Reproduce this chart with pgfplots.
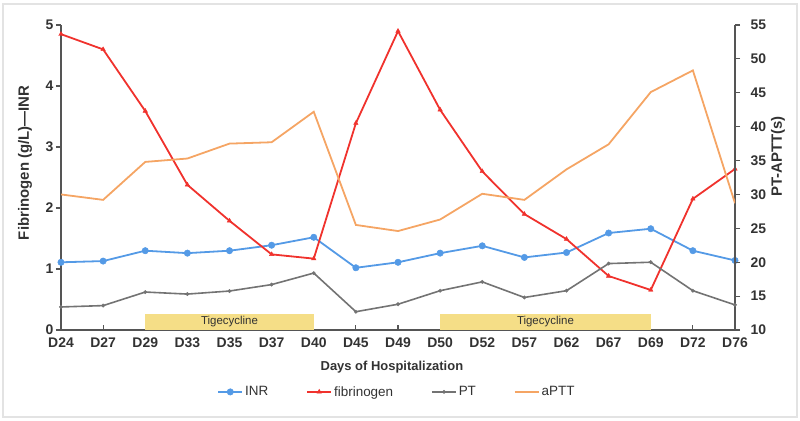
\documentclass[border=0pt]{standalone}
\usepackage{fontspec}
\setmainfont{Liberation Sans}
\usepackage{pgfplots}
\pgfplotsset{compat=1.18}
\definecolor{inr}{RGB}{84,154,230}
\definecolor{fib}{RGB}{240,50,45}
\definecolor{ptc}{RGB}{115,115,115}
\definecolor{aptt}{RGB}{245,165,100}
\definecolor{tig}{RGB}{245,222,135}
\definecolor{axc}{RGB}{85,85,85}
\definecolor{txt}{RGB}{50,50,50}

\pgfplotstableread{
x INR fib PT aPTT
0  1.11 4.85 13.4 30.0
1  1.13 4.60 13.6 29.2
2  1.30 3.59 15.6 34.8
3  1.26 2.38 15.3 35.3
4  1.30 1.79 15.75 37.5
5  1.39 1.24 16.7 37.7
6  1.52 1.17 18.4 42.2
7  1.02 3.39 12.7 25.5
8  1.11 4.90 13.8 24.6
9  1.26 3.61 15.8 26.3
10 1.38 2.60 17.1 30.1
11 1.19 1.90 14.8 29.2
12 1.27 1.49 15.8 33.7
13 1.59 0.885 19.8 37.4
14 1.66 0.656 20.0 45.1
15 1.30 2.15 15.8 48.3
16 1.14 2.64 13.7 28.7
}\datatable

\pgfplotsset{
  common/.style={
    at={(61bp,90bp)}, anchor=south west,
    scale only axis, width=674bp, height=305bp,
    xmin=0, xmax=16,
    axis line style={axc, line width=1.3bp},
    tick style={axc, line width=1.1bp},
    major tick length=5bp,
    tick label style={font=\fontsize{14}{14}\selectfont\bfseries, text=txt},
    /pgf/number format/assume math mode=true,
    label style={text=txt},
    ytick align=outside,
  },
  inrstyle/.style={inr, line width=1.8bp, mark=*, mark size=3.2bp, mark options={fill=inr, draw=inr, line width=0.5bp}},
  fibstyle/.style={fib, line width=1.8bp, mark=triangle*, mark size=2.6bp, mark options={fill=fib, draw=fib, line width=0.4bp}},
  ptstyle/.style={ptc, line width=1.6bp, mark=*, mark size=1.8bp, mark options={fill=ptc, draw=ptc, line width=0.3bp}},
  apttstyle/.style={aptt, line width=1.8bp, mark=none},
}

\begin{document}
\begin{tikzpicture}[x=1bp,y=1bp]
\path[use as bounding box] (0,0) rectangle (800,420);
\path[draw=gray!22, line width=2bp] (3,3) rectangle (797,416);

\begin{axis}[common,
  ymin=0, ymax=5,
  axis y line*=left, axis x line*=bottom,
  xtick={0,...,16},
  xticklabels={D24,D27,D29,D33,D35,D37,D40,D45,D49,D50,D52,D57,D62,D67,D69,D72,D76},
  xtick align=inside,
  xticklabel style={yshift=-4bp},
  yticklabel style={xshift=1bp},
  ytick={0,1,2,3,4,5},
  xlabel={\fontsize{13}{13}\selectfont\bfseries Days of Hospitalization},
  xlabel style={at={(axis description cs:0.491,-0.121)}, anchor=center},
  ylabel={\fontsize{15}{15}\selectfont\bfseries Fibrinogen (g/L)—INR},
  ylabel style={at={(axis description cs:-0.0535,0.548)}, anchor=center},
  legend columns=4,
  legend style={at={(axis description cs:0.4985,-0.203)}, anchor=center, draw=none,
    font=\fontsize{13.5}{13.5}\selectfont, text=txt,
    /tikz/every even column/.append style={column sep=36bp}},
  legend image code/.code={\draw[mark repeat=2, mark phase=2, #1] plot coordinates {(0bp,0bp) (12bp,0bp) (24bp,0bp)};},
  clip=false,
]
\addplot[fill=tig, draw=none, forget plot] coordinates {(2,0) (6,0) (6,0.255) (2,0.255)} -- cycle;
\addplot[fill=tig, draw=none, forget plot] coordinates {(9,0) (14,0) (14,0.255) (9,0.255)} -- cycle;
\node[font=\fontsize{11.5}{11.5}\selectfont, text=txt] at (axis cs:4,0.14) {Tigecycline};
\node[font=\fontsize{11.5}{11.5}\selectfont, text=txt] at (axis cs:11.5,0.14) {Tigecycline};
\addplot[inrstyle] table[x=x, y=INR] {\datatable};
\addlegendentry{INR}
\addplot[fibstyle] table[x=x, y=fib] {\datatable};
\addlegendentry{fibrinogen}
\addlegendimage{ptstyle}
\addlegendentry{PT}
\addlegendimage{apttstyle}
\addlegendentry{aPTT}
\end{axis}

\begin{axis}[common,
  ymin=10, ymax=55,
  axis y line*=right, axis x line=none,
  ytick={10,15,...,55},
  yticklabel style={xshift=7bp},
  ylabel={\fontsize{15}{15}\selectfont\bfseries PT-APTT(s)},
  ylabel style={at={(axis description cs:1.0638,0.569)}, anchor=center},
]
\addplot[apttstyle] table[x=x, y=aPTT] {\datatable};
\addplot[ptstyle] table[x=x, y=PT] {\datatable};
\end{axis}
\end{tikzpicture}
\end{document}
